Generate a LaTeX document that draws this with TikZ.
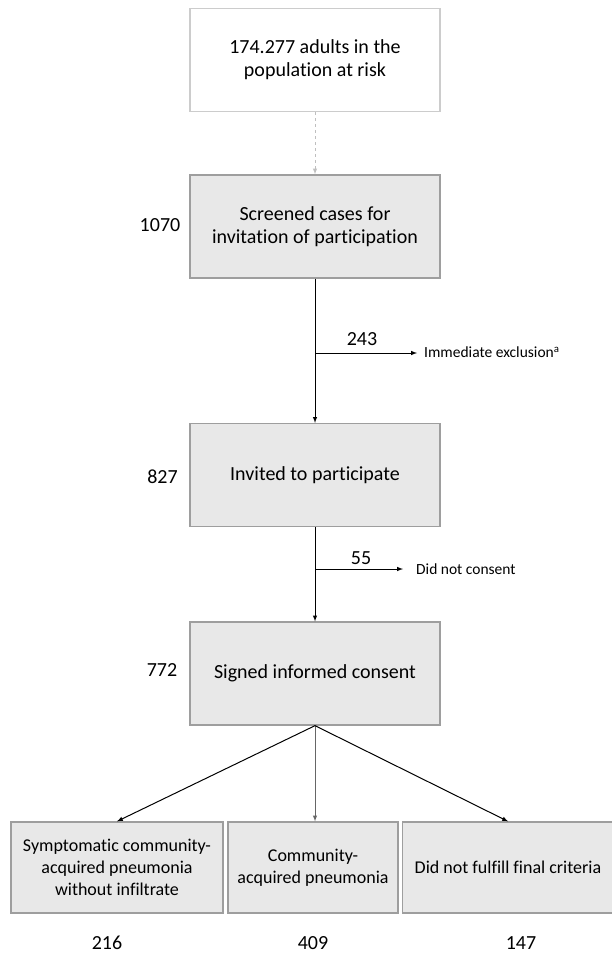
\documentclass[tikz,border=0pt]{standalone}
\usepackage{fontspec}
\setmainfont[Ligatures=CommonOff]{Carlito}
\usepackage{tikz}
\usetikzlibrary{
  arrows,
  calc,
  positioning}

\tikzset{
  stagebox/.style={draw=black!38, fill=black!9, line width=1.3pt,
    minimum width=250pt, minimum height=103pt, align=center,
    font=\fontsize{20}{23}\selectfont},
  endbox/.style={draw=black!38, fill=black!9, line width=1.3pt,
    minimum height=91pt, align=center, inner sep=2pt,
    font=\fontsize{18}{21.7}\selectfont},
  countlabel/.style={font=\fontsize{20}{24}\selectfont},
  sidelabel/.style={anchor=west, inner sep=0pt, font=\fontsize{15.5}{19}\selectfont},
  flow/.style={-latex, line width=1pt}
}

\begin{document}
\begin{tikzpicture}[x=1pt,y=-1pt]
            \useasboundingbox (0,0) rectangle (612,953);
            % main stages
            \node[stagebox, draw=black!20, fill=white] (pop) at (315,60) {174.277 adults in the\\population at risk};
            \node[stagebox] (scr) at (315,226.5) {Screened cases for\\invitation of participation};
            \node[stagebox] (inv) at (315,475) {Invited to participate};
            \node[stagebox] (sig) at (315,673.5) {Signed informed consent};
            \node[countlabel] (n1) at (160,225) {1070};
            \node[countlabel] (n2) at (162.5,477) {827};
            \node[countlabel] (n3) at (162,670) {772};
            \draw[-latex, dashed, black!25, line width=1pt] (pop) -- (scr);
            \draw[flow] (scr) -- (inv);
            \draw[flow] (inv) -- (sig);
            % exclusions
            \coordinate (b1) at (315,353);
            \coordinate (t1) at (417,353);
            \coordinate (b2) at (315,569);
            \coordinate (t2) at (403,569);
            \node[sidelabel] (ex1) at (424,352) {Immediate exclusion\textsuperscript{a}};
            \node[sidelabel] (ex2) at (416,569) {Did not consent};
            \draw[flow] (b1) -- (t1);
            \draw[flow] (b2) -- (t2);
            \node[countlabel] (m1) at (362,339) {243};
            \node[countlabel] (m2) at (361,558) {55};
            % outcomes
            \node[endbox, minimum width=212pt] (cap1) at (117,867.5) {Symptomatic community-\\acquired pneumonia\\without infiltrate};
            \node[endbox, minimum width=170pt] (cap2) at (313,867.5) {Community-\\acquired pneumonia};
            \node[endbox, minimum width=211pt] (nof) at (508,867.5) {Did not fulfill final criteria};
            \draw[flow] (sig.south) -- (cap1.north);
            \draw[flow, black!60] (sig.south) -- (sig.south |- cap2.north);
            \draw[flow] (sig.south) -- (nof.north);
            \node[countlabel, anchor=base, inner sep=0pt] (c1) at (107,949) {216};
            \node[countlabel, anchor=base, inner sep=0pt] (c2) at (313,949) {409};
            \node[countlabel, anchor=base, inner sep=0pt] (c3) at (521,949) {147};
        \end{tikzpicture}
\end{document}
